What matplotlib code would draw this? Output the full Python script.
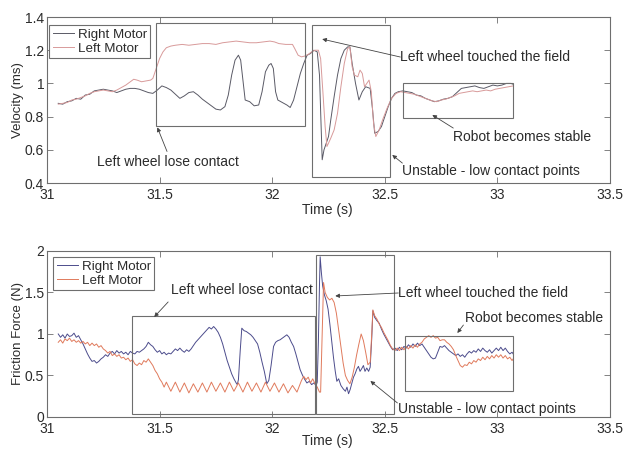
import matplotlib
matplotlib.use("Agg")
import matplotlib.pyplot as plt
from matplotlib.patches import Rectangle

plt.rcParams['font.family'] = ['Liberation Sans', 'DejaVu Sans']
plt.rcParams['font.size'] = 9

# Velocity - Right Motor
vel_t_right = [31.05, 31.07, 31.09, 31.11, 31.13, 31.15, 31.17, 31.19, 31.21, 31.23, 31.25, 31.27,
               31.29, 31.31, 31.33, 31.35, 31.37, 31.39, 31.41, 31.43, 31.45, 31.47, 31.49, 31.51,
               31.53, 31.55, 31.57, 31.59, 31.61, 31.63, 31.65, 31.67, 31.69, 31.71, 31.73, 31.75,
               31.77, 31.79, 31.805, 31.82, 31.835, 31.85, 31.86, 31.87, 31.88, 31.90, 31.92, 31.94,
               31.955, 31.97, 31.985, 31.995, 32.005, 32.015, 32.025, 32.045, 32.065, 32.08, 32.095,
               32.11, 32.125, 32.14, 32.155, 32.17, 32.185, 32.2, 32.21, 32.217, 32.222, 32.23, 32.24,
               32.25, 32.26, 32.275, 32.29, 32.305, 32.32, 32.335, 32.345, 32.355, 32.37, 32.385,
               32.40, 32.415, 32.435, 32.445, 32.455, 32.47, 32.485, 32.50, 32.515, 32.53, 32.545,
               32.56, 32.58, 32.60, 32.62, 32.64, 32.66, 32.68, 32.70, 32.72, 32.74, 32.76, 32.78,
               32.80, 32.82, 32.84, 32.86, 32.88, 32.90, 32.92, 32.94, 32.96, 32.98, 33.00, 33.02,
               33.04, 33.06, 33.07]
vel_right = [0.88, 0.875, 0.89, 0.895, 0.91, 0.905, 0.93, 0.935, 0.955, 0.96, 0.965, 0.96,
             0.955, 0.945, 0.955, 0.965, 0.97, 0.97, 0.965, 0.955, 0.945, 0.94, 0.96, 0.985,
             0.975, 0.96, 0.935, 0.91, 0.925, 0.945, 0.95, 0.93, 0.905, 0.885, 0.865, 0.845,
             0.84, 0.86, 0.93, 1.05, 1.14, 1.17, 1.14, 1.02, 0.90, 0.89, 0.865, 0.87,
             0.95, 1.07, 1.11, 1.12, 1.09, 0.95, 0.90, 0.885, 0.87, 0.855, 0.90,
             0.98, 1.06, 1.12, 1.17, 1.18, 1.2, 1.19, 1.05, 0.75, 0.54, 0.60, 0.64,
             0.68, 0.78, 0.92, 1.05, 1.15, 1.2, 1.22, 1.22, 1.12, 1.0, 0.9,
             0.95, 0.98, 0.97, 0.85, 0.70, 0.71, 0.74, 0.80, 0.86, 0.91, 0.94,
             0.95, 0.955, 0.95, 0.945, 0.93, 0.925, 0.91, 0.90, 0.89, 0.895, 0.905, 0.91,
             0.92, 0.945, 0.97, 0.975, 0.98, 0.985, 0.975, 0.97, 0.98, 0.99, 0.985, 0.99,
             1.0, 1.0, 0.995]

# Velocity - Left Motor
vel_t_left = [31.05, 31.07, 31.09, 31.11, 31.13, 31.15, 31.17, 31.19, 31.21, 31.23, 31.25, 31.27,
              31.29, 31.31, 31.33, 31.35, 31.37, 31.385, 31.40, 31.42, 31.44, 31.46, 31.47, 31.48,
              31.49, 31.50, 31.515, 31.53, 31.55, 31.57, 31.60, 31.63, 31.66, 31.69, 31.72, 31.75,
              31.78, 31.81, 31.84, 31.87, 31.90, 31.93, 31.96, 31.99, 32.01, 32.03, 32.06, 32.09,
              32.10, 32.115, 32.13, 32.145, 32.16, 32.175, 32.19, 32.205, 32.215, 32.225, 32.235,
              32.243, 32.25, 32.26, 32.275, 32.29, 32.305, 32.32, 32.335, 32.345, 32.355, 32.365,
              32.38, 32.39, 32.40, 32.41, 32.42, 32.43, 32.44, 32.45, 32.46, 32.475, 32.49, 32.51,
              32.53, 32.55, 32.57, 32.59, 32.61, 32.63, 32.65, 32.67, 32.69, 32.71, 32.73, 32.75,
              32.77, 32.79, 32.81, 32.83, 32.85, 32.87, 32.89, 32.91, 32.93, 32.95, 32.97, 32.99,
              33.01, 33.03, 33.05, 33.07]
vel_left = [0.875, 0.88, 0.885, 0.90, 0.905, 0.915, 0.925, 0.94, 0.95, 0.955, 0.96, 0.955,
            0.95, 0.96, 0.975, 0.99, 1.01, 1.025, 1.02, 1.01, 1.015, 1.02, 1.03, 1.07,
            1.11, 1.15, 1.19, 1.215, 1.225, 1.23, 1.235, 1.23, 1.235, 1.24, 1.24, 1.235,
            1.245, 1.25, 1.255, 1.25, 1.245, 1.245, 1.25, 1.255, 1.25, 1.24, 1.235, 1.235,
            1.21, 1.17, 1.16, 1.165, 1.175, 1.19, 1.2, 1.2, 1.15, 0.95, 0.74,
            0.62, 0.64, 0.67, 0.72, 0.82, 0.98, 1.12, 1.21, 1.22, 1.10, 1.05,
            1.04, 1.08, 1.06, 0.98, 1.0, 1.02, 0.95, 0.76, 0.68, 0.72, 0.78, 0.85,
            0.91, 0.94, 0.95, 0.945, 0.94, 0.935, 0.925, 0.915, 0.905, 0.895, 0.89, 0.90,
            0.905, 0.915, 0.925, 0.94, 0.945, 0.95, 0.955, 0.95, 0.955, 0.96, 0.955, 0.965,
            0.97, 0.975, 0.98, 0.985]

# Friction force - Right Motor
frc_t_right = [31.05, 31.06, 31.07, 31.08, 31.09, 31.10, 31.11, 31.12, 31.13, 31.14, 31.15, 31.16,
               31.17, 31.18, 31.19, 31.20, 31.21, 31.22, 31.23, 31.24, 31.25, 31.26, 31.27, 31.28,
               31.29, 31.30, 31.31, 31.32, 31.33, 31.34, 31.35, 31.36, 31.37, 31.38, 31.39, 31.40,
               31.41, 31.42, 31.43, 31.44, 31.45, 31.46, 31.47, 31.48, 31.49, 31.50, 31.51, 31.52,
               31.53, 31.54, 31.55, 31.56, 31.57, 31.58, 31.59, 31.60, 31.61, 31.62, 31.63, 31.64,
               31.65, 31.66, 31.67, 31.68, 31.69, 31.70, 31.71, 31.72, 31.73, 31.74, 31.75, 31.76,
               31.77, 31.78, 31.79, 31.80, 31.81, 31.82, 31.83, 31.84, 31.845, 31.85, 31.858, 31.865,
               31.875, 31.885, 31.895, 31.905, 31.915, 31.925, 31.935, 31.945, 31.955, 31.965,
               31.976, 31.985, 31.995, 32.006, 32.015, 32.025, 32.035, 32.045, 32.055, 32.065,
               32.075, 32.085, 32.095, 32.105, 32.115, 32.124, 32.135, 32.145, 32.154, 32.165,
               32.175, 32.185, 32.195, 32.20, 32.205, 32.21, 32.213, 32.218, 32.224, 32.232, 32.24,
               32.248, 32.256, 32.264, 32.272, 32.28, 32.287, 32.295, 32.305, 32.315, 32.325,
               32.332, 32.339, 32.346, 32.353, 32.361, 32.368, 32.376, 32.383, 32.39, 32.397,
               32.405, 32.412, 32.42, 32.428, 32.435, 32.442, 32.447, 32.455, 32.465, 32.475,
               32.485, 32.495, 32.505, 32.515, 32.525, 32.535, 32.545, 32.555, 32.565, 32.575,
               32.585, 32.595, 32.605, 32.615, 32.625, 32.635, 32.645, 32.655, 32.665, 32.675,
               32.685, 32.695, 32.705, 32.715, 32.725, 32.735, 32.745, 32.755, 32.765, 32.775,
               32.785, 32.795, 32.805, 32.815, 32.825, 32.835, 32.845, 32.855, 32.865, 32.875,
               32.885, 32.895, 32.905, 32.915, 32.925, 32.935, 32.945, 32.955, 32.965, 32.975,
               32.985, 32.995, 33.005, 33.015, 33.025, 33.035, 33.045, 33.055, 33.065, 33.07]
frc_right = [1.0, 0.96, 0.99, 0.95, 1.0, 0.97, 0.98, 1.01, 0.96, 0.98, 0.93, 0.88,
             0.82, 0.76, 0.71, 0.67, 0.68, 0.65, 0.67, 0.70, 0.72, 0.75, 0.73, 0.77,
             0.79, 0.76, 0.80, 0.77, 0.79, 0.76, 0.78, 0.75, 0.79, 0.77, 0.76, 0.79,
             0.78, 0.80, 0.82, 0.85, 0.90, 0.87, 0.85, 0.81, 0.78, 0.80, 0.76, 0.78,
             0.75, 0.77, 0.76, 0.79, 0.82, 0.80, 0.83, 0.80, 0.78, 0.81, 0.79, 0.82,
             0.86, 0.90, 0.93, 0.96, 0.99, 1.02, 1.05, 1.08, 1.06, 1.09, 1.06, 1.02,
             0.96, 0.88, 0.78, 0.68, 0.60, 0.52, 0.46, 0.41, 0.39, 0.45, 0.80, 1.07,
             1.04, 1.03, 1.01, 0.99, 0.96, 0.92, 0.88, 0.78, 0.66, 0.55,
             0.40, 0.44, 0.62, 0.85, 0.90, 0.92, 0.93, 0.95, 0.97, 0.99,
             0.96, 0.90, 0.85, 0.76, 0.66, 0.57, 0.50, 0.45, 0.41, 0.43,
             0.39, 0.41, 0.38, 0.42, 0.9, 1.6, 1.93, 1.75, 1.58, 1.47, 1.40,
             1.30, 1.12, 0.92, 0.72, 0.55, 0.43, 0.46, 0.38, 0.34, 0.31,
             0.36, 0.28, 0.33, 0.40, 0.48, 0.52, 0.58, 0.61, 0.55, 0.58,
             0.62, 0.55, 0.59, 0.55, 0.60, 0.95, 1.28, 1.2, 1.16, 1.13,
             1.06, 1.0, 0.95, 0.9, 0.85, 0.81, 0.83, 0.80, 0.84, 0.81,
             0.85, 0.83, 0.87, 0.84, 0.88, 0.85, 0.89, 0.86, 0.88, 0.84,
             0.80, 0.76, 0.72, 0.70, 0.71, 0.78, 0.85, 0.84, 0.86, 0.83,
             0.80, 0.78, 0.76, 0.74, 0.76, 0.73, 0.75, 0.72, 0.76, 0.79,
             0.77, 0.80, 0.78, 0.82, 0.79, 0.83, 0.80, 0.78, 0.81, 0.77,
             0.80, 0.83, 0.80, 0.84, 0.80, 0.83, 0.79, 0.76, 0.78, 0.76]

# Friction force - Left Motor
frc_t_left = [31.05, 31.06, 31.07, 31.08, 31.09, 31.10, 31.11, 31.12, 31.13, 31.14, 31.15, 31.16,
              31.17, 31.18, 31.19, 31.20, 31.21, 31.22, 31.23, 31.24, 31.25, 31.26, 31.27, 31.28,
              31.29, 31.30, 31.31, 31.32, 31.33, 31.34, 31.35, 31.36, 31.37, 31.38, 31.39, 31.40,
              31.41, 31.42, 31.43, 31.44, 31.45, 31.46, 31.47, 31.48, 31.49, 31.50, 31.51, 31.52,
              31.53, 31.55, 31.57, 31.59, 31.61, 31.63, 31.65, 31.67, 31.69, 31.71, 31.73, 31.75,
              31.77, 31.79, 31.81, 31.83, 31.85, 31.87, 31.89, 31.91, 31.93, 31.95, 31.97, 31.99,
              32.01, 32.03, 32.05, 32.07, 32.09, 32.11, 32.13, 32.14, 32.15, 32.16, 32.17, 32.18,
              32.19, 32.20, 32.21, 32.215, 32.222, 32.228, 32.235, 32.245, 32.255, 32.265, 32.275,
              32.285, 32.295, 32.305, 32.315, 32.325, 32.335, 32.345, 32.355, 32.365, 32.375,
              32.385, 32.395, 32.405, 32.415, 32.425, 32.435, 32.442, 32.447, 32.455, 32.465,
              32.475, 32.485, 32.495, 32.505, 32.515, 32.525, 32.535, 32.545, 32.555, 32.565,
              32.575, 32.585, 32.595, 32.605, 32.615, 32.625, 32.635, 32.645, 32.655, 32.665,
              32.675, 32.685, 32.695, 32.705, 32.715, 32.725, 32.735, 32.745, 32.755, 32.765,
              32.775, 32.785, 32.795, 32.805, 32.815, 32.825, 32.835, 32.845, 32.855, 32.865,
              32.875, 32.885, 32.895, 32.905, 32.915, 32.925, 32.935, 32.945, 32.955, 32.965,
              32.975, 32.985, 32.995, 33.005, 33.015, 33.025, 33.035, 33.045, 33.055, 33.065, 33.07]
frc_left = [0.90, 0.93, 0.89, 0.94, 0.92, 0.95, 0.91, 0.93, 0.90, 0.92, 0.89, 0.91,
            0.88, 0.90, 0.86, 0.89, 0.86, 0.88, 0.84, 0.86, 0.82, 0.80, 0.77, 0.79,
            0.74, 0.76, 0.73, 0.75, 0.71, 0.72, 0.69, 0.71, 0.67, 0.69, 0.64, 0.62,
            0.65, 0.63, 0.68, 0.66, 0.70, 0.66, 0.62, 0.56, 0.52, 0.46, 0.42, 0.36,
            0.42, 0.31, 0.42, 0.30, 0.41, 0.29, 0.40, 0.30, 0.41, 0.30, 0.42, 0.31,
            0.41, 0.30, 0.42, 0.31, 0.41, 0.30, 0.42, 0.31, 0.41, 0.30, 0.42, 0.31,
            0.41, 0.30, 0.40, 0.29, 0.38, 0.30, 0.44, 0.49, 0.45, 0.48, 0.41, 0.46,
            0.40, 0.36, 0.30, 0.30, 1.0, 1.62, 1.5, 1.44, 1.41, 1.43, 1.38,
            1.25, 1.05, 0.85, 0.65, 0.50, 0.44, 0.40, 0.48, 0.60, 0.75,
            0.88, 1.0, 0.92, 0.78, 0.63, 0.66, 1.0, 1.29, 1.22, 1.18,
            1.12, 1.08, 1.02, 0.97, 0.92, 0.86, 0.82, 0.80, 0.83, 0.80,
            0.84, 0.81, 0.85, 0.82, 0.86, 0.83, 0.87, 0.84, 0.88, 0.90,
            0.94, 0.96, 0.98, 0.96, 0.98, 0.95, 0.96, 0.92, 0.93, 0.93,
            0.90, 0.88, 0.85, 0.81, 0.74, 0.68, 0.62, 0.60, 0.63, 0.62,
            0.66, 0.64, 0.68, 0.66, 0.70, 0.68, 0.72, 0.69, 0.73, 0.70,
            0.74, 0.71, 0.75, 0.72, 0.75, 0.71, 0.74, 0.70, 0.72, 0.68, 0.70]

x_ticks = [31, 31.5, 32, 32.5, 33, 33.5]
x_tick_labels = ['31', '31.5', '32', '32.5', '33', '33.5']
vel_ticks = [0.4, 0.6, 0.8, 1.0, 1.2, 1.4]
vel_tick_labels = ['0.4', '0.6', '0.8', '1', '1.2', '1.4']
frc_ticks = [0, 0.5, 1.0, 1.5, 2.0]
frc_tick_labels = ['0', '0.5', '1', '1.5', '2']

series_labels = ['Right Motor', 'Left Motor']

# event boxes (x0, y0, x1, y1) in data units
vel_boxes = [(31.484, 0.743, 32.147, 1.364), (32.178, 0.436, 32.524, 1.352),
             (32.582, 0.79, 33.071, 1.002)]
frc_boxes = [(31.378, 0.03, 32.191, 1.217), (32.196, 0.03, 32.542, 1.95),
             (32.591, 0.313, 33.071, 0.976)]

# (text, text_xy, arrow tail, arrow head)
vel_notes = [
    ('Left wheel lose contact', (31.222, 0.527), (31.533, 0.59), (31.49, 0.735)),
    ('Left wheel touched the field', (32.569, 1.159), (32.569, 1.159), (32.222, 1.267)),
    ('Robot becomes stable', (32.804, 0.677), (32.804, 0.731), (32.711, 0.81)),
    ('Unstable - low contact points', (32.578, 0.472), (32.578, 0.52), (32.533, 0.569)),
]
frc_notes = [
    ('Left wheel lose contact', (31.551, 1.53), (31.538, 1.386), (31.476, 1.205)),
    ('Left wheel touched the field', (32.56, 1.494), (32.56, 1.494), (32.28, 1.458)),
    ('Robot becomes stable', (32.858, 1.193), (32.849, 1.108), (32.822, 1.012)),
    ('Unstable - low contact points', (32.56, 0.096), (32.556, 0.169), (32.436, 0.434)),
]

TXT = '#2b2b2b'
EDGE = '#6e6e6e'


def style_axes(ax, yticks, ylabels, ylim, ylabel, xlabel_y):
    ax.set_xlim(31, 33.5)
    ax.set_ylim(*ylim)
    ax.set_xticks(x_ticks)
    ax.set_xticklabels(x_tick_labels)
    ax.set_yticks(yticks)
    ax.set_yticklabels(ylabels)
    ax.tick_params(direction='in', length=4, width=0.6, color=EDGE, labelcolor=TXT,
                   labelsize=10, top=True, right=True, pad=2)
    ax.tick_params(axis='x', pad=3.5)
    for s in ax.spines.values():
        s.set_color(EDGE)
        s.set_linewidth(0.8)
    ax.set_xlabel('Time (s)', color=TXT, fontsize=10, va='center')
    ax.xaxis.set_label_coords(0.497, xlabel_y)
    ax.set_ylabel(ylabel, color=TXT, fontsize=9.5, labelpad=1)


def draw_panel(ax, boxes, notes):
    for x0, y0, x1, y1 in boxes:
        ax.add_patch(Rectangle((x0, y0), x1 - x0, y1 - y0, fill=False,
                               edgecolor=EDGE, linewidth=0.8, zorder=3))
    for text, txy, tail, head in notes:
        ax.text(txy[0], txy[1], text, fontsize=10, color=TXT, va='center', ha='left')
        ax.annotate('', xy=head, xytext=tail,
                    arrowprops=dict(arrowstyle='-|>', color='#444444', lw=0.6,
                                    mutation_scale=6, shrinkA=0, shrinkB=0))


def add_legend(ax, anchor):
    leg = ax.legend(loc='upper left', bbox_to_anchor=anchor, fancybox=False,
                    edgecolor=EDGE, framealpha=1, handlelength=1.6, handletextpad=0.3,
                    borderpad=0.25, labelspacing=0.15, borderaxespad=0, fontsize=9.6)
    leg.get_frame().set_linewidth(0.8)
    for t in leg.get_texts():
        t.set_color(TXT)


fig = plt.figure(figsize=(6.24, 4.49), dpi=100)
ax1 = fig.add_axes([0.0753, 0.5924, 0.9023, 0.3697])
ax2 = fig.add_axes([0.0753, 0.0713, 0.9023, 0.3697])

ax1.plot(vel_t_right, vel_right, color='#5a5a66', lw=0.7, label=series_labels[0])
ax1.plot(vel_t_left, vel_left, color='#d89a9a', lw=0.7, label=series_labels[1])
style_axes(ax1, vel_ticks, vel_tick_labels, (0.4, 1.4), 'Velocity (ms)', -0.163)
draw_panel(ax1, vel_boxes, vel_notes)
add_legend(ax1, (0.004, 0.952))

ax2.plot(frc_t_right, frc_right, color='#4c4c8c', lw=0.7, label=series_labels[0])
ax2.plot(frc_t_left, frc_left, color='#e07a5c', lw=0.7, label=series_labels[1])
style_axes(ax2, frc_ticks, frc_tick_labels, (0, 2), 'Friction Force (N)', -0.145)
draw_panel(ax2, frc_boxes, frc_notes)
add_legend(ax2, (0.011, 0.964))

fig.savefig('out.png', dpi=100, facecolor='white')
